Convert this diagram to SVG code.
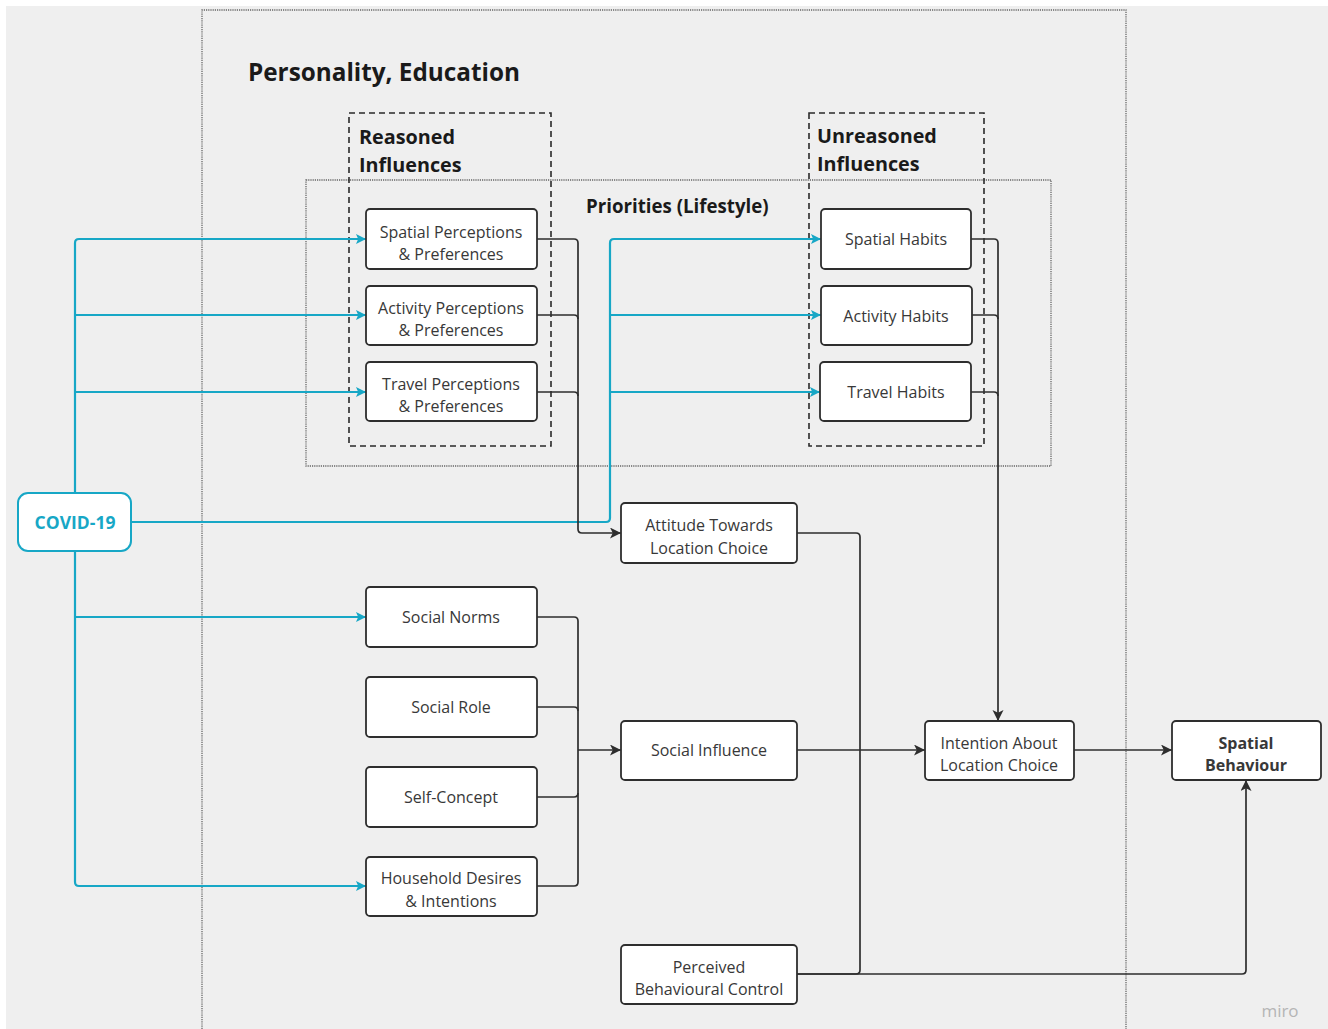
<svg xmlns="http://www.w3.org/2000/svg" width="1328" height="1029" viewBox="0 0 1328 1029">
<style>
.bg{fill:#efefef}
.frame{fill:none;stroke:#666;stroke-width:1.3;stroke-dasharray:1.2 1}
.dash{fill:none;stroke:#2a2a2a;stroke-width:1.6;stroke-dasharray:6 4}
.node rect{fill:#fff;stroke:#2e2e2e;stroke-width:1.8}
.node text{font-family:"Open Sans","Noto Sans",sans-serif;font-size:16px;fill:#383838;text-anchor:middle}
.hdr{font-family:"Open Sans","Noto Sans",sans-serif;font-weight:bold;fill:#1a1a1a}
.k{fill:none;stroke:#2e2e2e;stroke-width:1.7}
.t{fill:none;stroke:#17a7c6;stroke-width:2.2}
</style>
<defs>
<marker id="ak" markerUnits="userSpaceOnUse" markerWidth="13" markerHeight="13" refX="11" refY="5.5" orient="auto"><path d="M0,0 L11,5.5 L0,11 L2.8,5.5 z" fill="#2e2e2e"/></marker>
<marker id="at" markerUnits="userSpaceOnUse" markerWidth="12" markerHeight="12" refX="10" refY="5" orient="auto"><path d="M0,0 L10,5 L0,10 L2.2,5 z" fill="#17a7c6"/></marker>
</defs>
<rect x="0" y="0" width="1328" height="1029" fill="#fff"/>
<rect class="bg" x="6" y="6" width="1322" height="1023"/>
<g id="frames">
<path class="frame" d="M202,1029 L202,10 L1126,10 L1126,1029"/>
<rect class="frame" x="306" y="180" width="745" height="286"/>
<rect class="dash" x="349" y="113" width="202" height="333"/>
<rect class="dash" x="809" y="113" width="175" height="333"/>
<text class="hdr" x="248" y="81" font-size="24.3">Personality, Education</text>
<text class="hdr" x="359" y="144" font-size="19.8">Reasoned</text>
<text class="hdr" x="359" y="172" font-size="19.8">Influences</text>
<text class="hdr" x="817" y="143" font-size="19.8">Unreasoned</text>
<text class="hdr" x="817" y="171" font-size="19.8">Influences</text>
<text class="hdr" x="586" y="213" font-size="18.7">Priorities (Lifestyle)</text>
</g>
<g id="connectors">
<path class="t" d="M75,493 L75,243 Q75,239 79,239 L366,239" marker-end="url(#at)"/>
<path class="t" d="M75,315 L366,315" marker-end="url(#at)"/>
<path class="t" d="M75,392 L366,392" marker-end="url(#at)"/>
<path class="t" d="M75,551 L75,882 Q75,886 79,886 L366,886" marker-end="url(#at)"/>
<path class="t" d="M75,617 L366,617" marker-end="url(#at)"/>
<path class="t" d="M131,522 L606,522 Q610,522 610,518 L610,243 Q610,239 614,239 L821,239" marker-end="url(#at)"/>
<path class="t" d="M610,315 L821,315" marker-end="url(#at)"/>
<path class="t" d="M610,392 L820,392" marker-end="url(#at)"/>
<path class="k" d="M537,239 L574,239 Q578,239 578,243 L578,529 Q578,533 582,533 L621,533" marker-end="url(#ak)"/>
<path class="k" d="M537,315 L574,315 Q578,315 578,319"/>
<path class="k" d="M537,392 L574,392 Q578,392 578,396"/>
<path class="k" d="M537,617 L574,617 Q578,617 578,621 L578,882 Q578,886 574,886 L537,886"/>
<path class="k" d="M537,707 L574,707 Q578,707 578,711"/>
<path class="k" d="M537,797 L574,797 Q578,797 578,793"/>
<path class="k" d="M578,750 L621,750" marker-end="url(#ak)"/>
<path class="k" d="M971,239 L994,239 Q998,239 998,243 L998,721" marker-end="url(#ak)"/>
<path class="k" d="M972,315 L994,315 Q998,315 998,319"/>
<path class="k" d="M971,392 L994,392 Q998,392 998,396"/>
<path class="k" d="M797,533 L856,533 Q860,533 860,537 L860,970 Q860,974 856,974 L797,974"/>
<path class="k" d="M797,750 L925,750" marker-end="url(#ak)"/>
<path class="k" d="M797,974 L1242,974 Q1246,974 1246,970 L1246,780" marker-end="url(#ak)"/>
<path class="k" d="M1074,750 L1172,750" marker-end="url(#ak)"/>
</g>
<g id="covid">
<rect x="18" y="493" width="113" height="58" rx="10" fill="#fff" stroke="#17a7c6" stroke-width="2"/>
<text x="75" y="529" font-family="'Open Sans','Noto Sans',sans-serif" font-size="17.5" font-weight="bold" fill="#17a7c6" text-anchor="middle">COVID-19</text>
</g>
<g id="spatial-perceptions" class="node"><rect x="366" y="209" width="171" height="60" rx="4"/><text x="451" y="238">Spatial Perceptions</text><text x="451" y="260">&amp; Preferences</text></g>
<g id="activity-perceptions" class="node"><rect x="366" y="286" width="171" height="59" rx="4"/><text x="451" y="314">Activity Perceptions</text><text x="451" y="336">&amp; Preferences</text></g>
<g id="travel-perceptions" class="node"><rect x="366" y="362" width="171" height="59" rx="4"/><text x="451" y="390">Travel Perceptions</text><text x="451" y="412">&amp; Preferences</text></g>
<g id="spatial-habits" class="node"><rect x="821" y="209" width="150" height="60" rx="4"/><text x="896" y="245">Spatial Habits</text></g>
<g id="activity-habits" class="node"><rect x="821" y="286" width="151" height="59" rx="4"/><text x="896" y="322">Activity Habits</text></g>
<g id="travel-habits" class="node"><rect x="820" y="362" width="151" height="59" rx="4"/><text x="896" y="398">Travel Habits</text></g>
<g id="attitude" class="node"><rect x="621" y="503" width="176" height="60" rx="4"/><text x="709" y="531">Attitude Towards</text><text x="709" y="554">Location Choice</text></g>
<g id="social-norms" class="node"><rect x="366" y="587" width="171" height="60" rx="4"/><text x="451" y="623">Social Norms</text></g>
<g id="social-role" class="node"><rect x="366" y="677" width="171" height="60" rx="4"/><text x="451" y="713">Social Role</text></g>
<g id="self-concept" class="node"><rect x="366" y="767" width="171" height="60" rx="4"/><text x="451" y="803">Self-Concept</text></g>
<g id="household" class="node"><rect x="366" y="857" width="171" height="59" rx="4"/><text x="451" y="884">Household Desires</text><text x="451" y="907">&amp; Intentions</text></g>
<g id="social-influence" class="node"><rect x="621" y="721" width="176" height="59" rx="4"/><text x="709" y="756">Social Influence</text></g>
<g id="intention" class="node"><rect x="925" y="721" width="149" height="59" rx="4"/><text x="999" y="749">Intention About</text><text x="999" y="771">Location Choice</text></g>
<g id="perceived-control" class="node"><rect x="621" y="945" width="176" height="59" rx="4"/><text x="709" y="973">Perceived</text><text x="709" y="995">Behavioural Control</text></g>
<g id="spatial-behaviour" class="node"><rect x="1172" y="721" width="149" height="59" rx="4"/><text x="1246" y="749" font-weight="bold" fill="#222">Spatial</text><text x="1246" y="771" font-weight="bold" fill="#222">Behaviour</text></g>
<text x="1280" y="1017" font-family="'Open Sans','Noto Sans',sans-serif" font-size="17" fill="#b5b5b5" text-anchor="middle">miro</text>
</svg>
